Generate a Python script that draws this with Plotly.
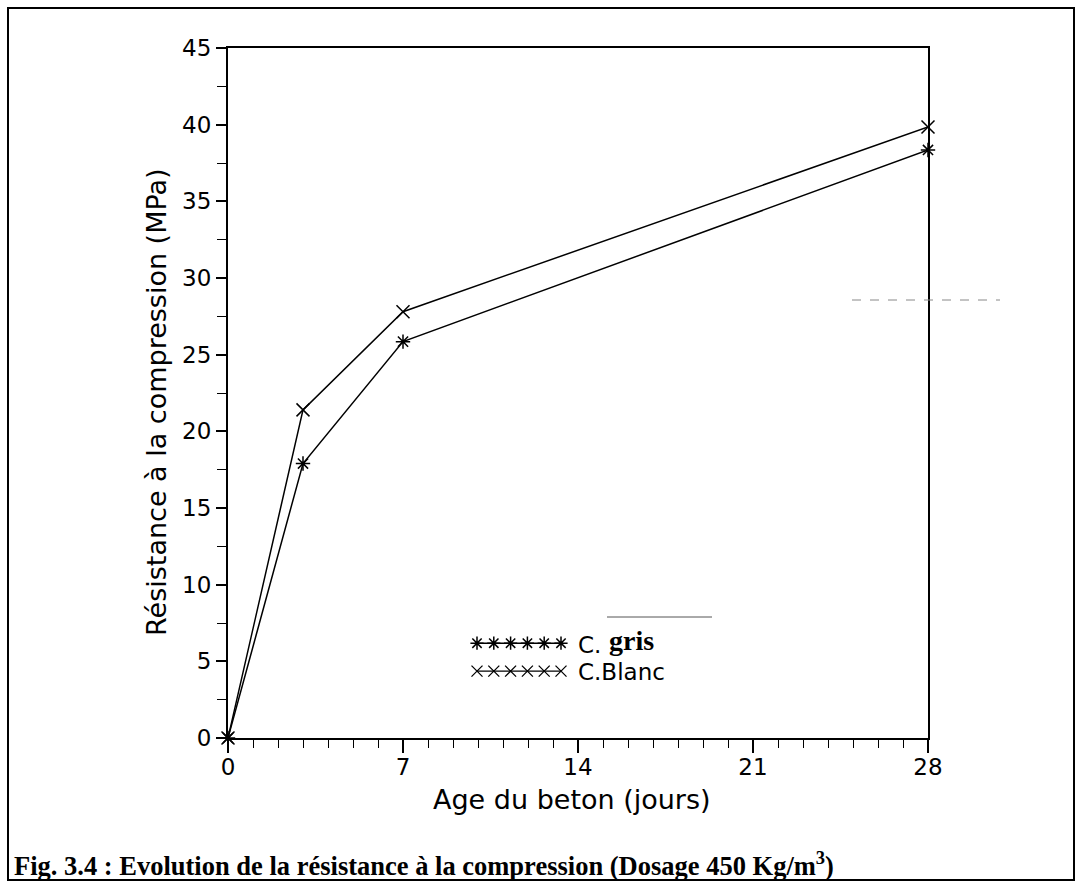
import plotly.graph_objects as go

# ---------------- data ----------------
age_days = [0, 3, 7, 28]
gris_mpa = [0, 17.9, 25.85, 38.35]
blanc_mpa = [0, 21.4, 27.8, 39.85]

x_tickvals = [0, 7, 14, 21, 28]
y_tickvals = [0, 5, 10, 15, 20, 25, 30, 35, 40, 45]

legend_names = ["C.", "C.Blanc"]
legend_bold = "gris"
legend_sample_x = [0, 1, 2, 3, 4, 5]

x_title = "Age du beton (jours)"
y_title = "Résistance à la compression (MPa)"
caption = "Fig. 3.4 : Evolution de la résistance à la compression (Dosage 450 Kg/m<sup>3</sup>)"

# ---------------- layout constants ----------------
W, H = 1076, 884
L, R, T, B = 228, 1076 - 928, 48, 884 - 738
PW, PH = W - L - R, H - T - B


def px(xp):
    return (xp - L) / PW


def py(yp):
    return (H - B - yp) / PH


SANS = "DejaVu Sans"
SERIF = "Liberation Serif"

fig = go.Figure()

fig.add_trace(go.Scatter(
    x=age_days, y=gris_mpa, mode="lines+markers",
    line=dict(color="black", width=1.5),
    marker=dict(symbol="asterisk-open", size=12, color="black",
                line=dict(color="black", width=1.5)),
    cliponaxis=False, showlegend=False, name="C. gris"))

fig.add_trace(go.Scatter(
    x=age_days, y=blanc_mpa, mode="lines+markers",
    line=dict(color="black", width=1.5),
    marker=dict(symbol="x-thin-open", size=13, color="black",
                line=dict(color="black", width=1.5)),
    cliponaxis=False, showlegend=False, name="C.Blanc"))

# legend samples on a small overlay axis
fig.add_trace(go.Scatter(
    x=legend_sample_x, y=[0.72] * len(legend_sample_x), mode="lines+markers",
    xaxis="x2", yaxis="y2",
    line=dict(color="black", width=1.5),
    marker=dict(symbol="asterisk-open", size=11, color="black",
                line=dict(color="black", width=1.5)),
    cliponaxis=False, showlegend=False, hoverinfo="skip"))
fig.add_trace(go.Scatter(
    x=legend_sample_x, y=[0.29] * len(legend_sample_x), mode="lines+markers",
    xaxis="x2", yaxis="y2",
    line=dict(color="black", width=1.2),
    marker=dict(symbol="x-thin-open", size=11, color="black",
                line=dict(color="black", width=1.3)),
    cliponaxis=False, showlegend=False, hoverinfo="skip"))

axis_font = dict(family=SANS, size=23, color="black")

fig.update_layout(
    width=W, height=H,
    margin=dict(l=L, r=R, t=T, b=B, autoexpand=False),
    paper_bgcolor="white", plot_bgcolor="white",
    showlegend=False,
    xaxis=dict(
        range=[0, 28], tickmode="array", tickvals=x_tickvals,
        ticks="outside", ticklen=13, tickwidth=1.5, tickcolor="black",
        ticklabelstandoff=-6,
        minor=dict(dtick=1, tick0=0, ticks="outside", ticklen=8,
                   tickwidth=1.2, tickcolor="black", showgrid=False),
        showline=True, linecolor="black", linewidth=2, mirror=True,
        showgrid=False, zeroline=False, tickfont=axis_font,
        automargin=False, fixedrange=True),
    yaxis=dict(
        range=[0, 45], tickmode="array", tickvals=y_tickvals,
        ticks="outside", ticklen=10, tickwidth=1.5, tickcolor="black",
        minor=dict(dtick=2.5, tick0=0, ticks="outside", ticklen=9,
                   tickwidth=1.2, tickcolor="black", showgrid=False),
        showline=True, linecolor="black", linewidth=2, mirror=True,
        showgrid=False, zeroline=False, tickfont=axis_font,
        automargin=False, fixedrange=True),
    xaxis2=dict(domain=[px(477), px(561)], range=[0, 5], visible=False,
                anchor="y2", fixedrange=True),
    yaxis2=dict(domain=[py(690), py(625)], range=[0, 1], visible=False,
                anchor="x2", fixedrange=True),
)

ann = []
ann.append(dict(text=x_title, x=px(572), y=py(799), xref="paper", yref="paper",
                xanchor="center", yanchor="middle", showarrow=False,
                font=dict(family=SANS, size=27, color="black")))
ann.append(dict(text=y_title, x=px(157), y=py(402), xref="paper", yref="paper",
                xanchor="center", yanchor="middle", showarrow=False, textangle=-90,
                font=dict(family=SANS, size=27, color="black")))
ann.append(dict(text=caption, x=px(12), y=py(864), xref="paper", yref="paper",
                xanchor="left", yanchor="middle", showarrow=False,
                font=dict(family=SERIF, size=26.5, color="black", weight="bold")))
ann.append(dict(text=legend_names[0], x=px(576), y=py(645), xref="paper", yref="paper",
                xanchor="left", yanchor="middle", showarrow=False,
                font=dict(family=SANS, size=23, color="black")))
ann.append(dict(text=legend_bold, x=px(607), y=py(640), xref="paper", yref="paper",
                xanchor="left", yanchor="middle", showarrow=False,
                font=dict(family=SERIF, size=28, color="black", weight="bold")))
ann.append(dict(text=legend_names[1], x=px(576), y=py(672), xref="paper", yref="paper",
                xanchor="left", yanchor="middle", showarrow=False,
                font=dict(family=SANS, size=23, color="black")))
fig.update_layout(annotations=ann)

shapes = []
# outer page border
shapes.append(dict(type="rect", xref="paper", yref="paper",
                   x0=px(8), x1=px(1074), y0=py(880), y1=py(8),
                   line=dict(color="black", width=2)))
# scan artefacts
shapes.append(dict(type="line", xref="paper", yref="paper",
                   x0=px(607), x1=px(712), y0=py(617), y1=py(617),
                   line=dict(color="#555555", width=1)))
shapes.append(dict(type="line", xref="paper", yref="paper",
                   x0=px(852), x1=px(1000), y0=py(300), y1=py(300),
                   line=dict(color="#888888", width=1, dash="dash")))
fig.update_layout(shapes=shapes)

fig.write_html("out.html")
